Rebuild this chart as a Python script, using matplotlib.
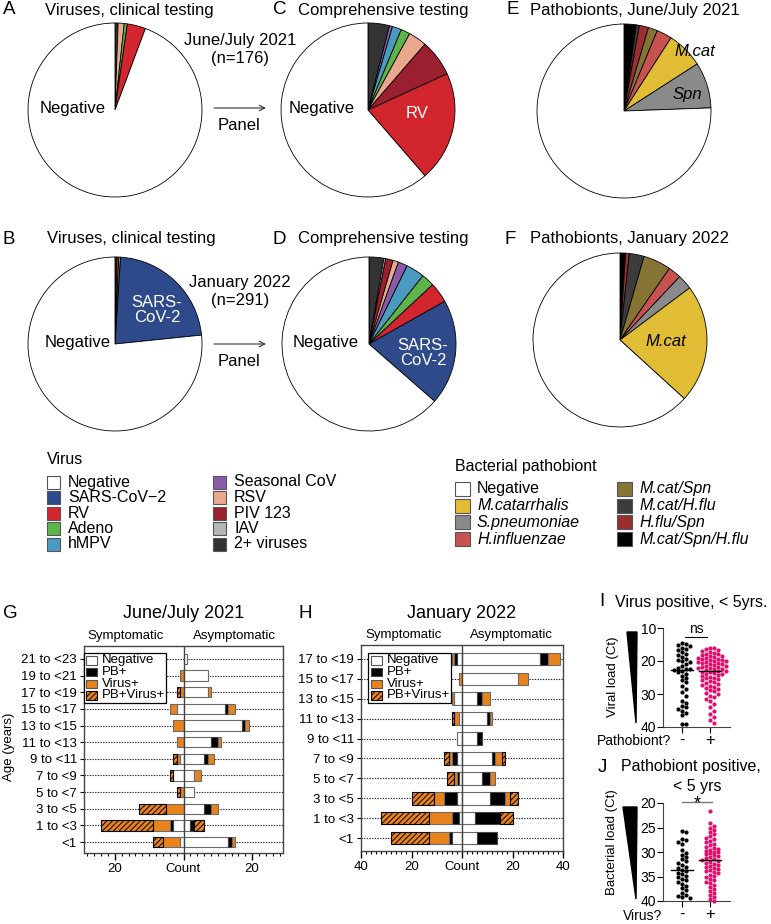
import numpy as np
import matplotlib
matplotlib.use('Agg')
import matplotlib.pyplot as plt
from matplotlib.patches import Rectangle, Polygon
from matplotlib.ticker import MultipleLocator

plt.rcParams['font.family'] = ['Liberation Sans', 'DejaVu Sans']
plt.rcParams['hatch.linewidth'] = 0.7
plt.rcParams['hatch.color'] = 'black'

W, H = 771, 924

# ---- colours ----
vir_col = {'Negative': '#ffffff', 'SARS-CoV-2': '#2e4a8b', 'RV': '#d2252d', 'Adeno': '#5db549',
           'hMPV': '#4b9bc0', 'Seasonal CoV': '#8a5ca8', 'RSV': '#eaa98c', 'PIV 123': '#9a1f2f',
           'IAV': '#b3b6b6', '2+ viruses': '#333333'}
bac_col = {'Negative': '#ffffff', 'M.catarrhalis': '#e1bd36', 'S.pneumoniae': '#8a8a8a',
           'H.influenzae': '#c65350', 'M.cat/Spn': '#857434', 'M.cat/H.flu': '#3c3c3c',
           'H.flu/Spn': '#9b2f2f', 'M.cat/Spn/H.flu': '#000000'}
orange = '#e8831c'

# ---- pie data (clockwise from 12 o'clock) ----
a_labels = ['2+ viruses', 'RSV', 'Adeno', 'RV', 'Negative']
a_counts = [1, 2, 1, 6, 166]
c_labels = ['2+ viruses', 'Seasonal CoV', 'hMPV', 'Adeno', 'RSV', 'PIV 123', 'RV', 'Negative']
c_counts = [7, 1, 3, 3, 6, 12, 36, 108]
b_labels = ['2+ viruses', 'RV', 'Adeno', 'SARS-CoV-2', 'Negative']
b_counts = [1, 1, 1, 65, 223]
d_labels = ['2+ viruses', 'IAV', 'PIV 123', 'RSV', 'Seasonal CoV', 'hMPV', 'Adeno', 'RV', 'SARS-CoV-2', 'Negative']
d_counts = [8, 1, 4, 3, 5, 10, 7, 11, 57, 185]
e_labels = ['M.cat/Spn/H.flu', 'M.cat/H.flu', 'H.flu/Spn', 'M.cat/Spn', 'H.influenzae', 'M.catarrhalis', 'S.pneumoniae', 'Negative']
e_counts = [4, 1, 3, 3, 5, 12, 15, 133]
f_labels = ['M.cat/Spn/H.flu', 'H.flu/Spn', 'M.cat/H.flu', 'M.cat/Spn', 'H.influenzae', 'S.pneumoniae', 'M.catarrhalis', 'Negative']
f_counts = [3, 2, 8, 15, 7, 8, 64, 184]

vir_legend = ['Negative', 'SARS-CoV-2', 'RV', 'Adeno', 'hMPV', 'Seasonal CoV', 'RSV', 'PIV 123', 'IAV', '2+ viruses']
vir_legend_txt = ['Negative', 'SARS-CoV\u22122', 'RV', 'Adeno', 'hMPV', 'Seasonal CoV', 'RSV', 'PIV 123', 'IAV', '2+ viruses']
bac_legend = ['Negative', 'M.catarrhalis', 'S.pneumoniae', 'H.influenzae', 'M.cat/Spn', 'M.cat/H.flu', 'H.flu/Spn', 'M.cat/Spn/H.flu']

# ---- age bar data (top row first) ----
ages_g = ['21 to <23', '19 to <21', '17 to <19', '15 to <17', '13 to <15', '11 to <13',
          '9 to <11', '7 to <9', '5 to <7', '3 to <5', '1 to <3', '<1']
g_sym_neg = [0, 0, 0, 2, 0, 0, 1, 3, 0, 0, 3, 1]
g_sym_pb = [0, 0, 0, 0, 0, 0, 0, 0, 0, 0, 1, 0]
g_sym_vir = [0, 1, 1, 2, 3, 2, 1, 0, 1, 5, 5, 5]
g_sym_pbvir = [0, 0, 1, 0, 0, 0, 1, 1, 1, 8, 15, 3]
g_asym_neg = [1, 7, 7, 12, 17, 8, 6, 3, 3, 6, 2, 13]
g_asym_pb = [0, 0, 0, 1, 1, 2, 1, 0, 0, 2, 1, 1]
g_asym_vir = [0, 0, 1, 2, 1, 1, 2, 2, 0, 2, 0, 1]
g_asym_pbvir = [0, 0, 0, 0, 0, 0, 0, 0, 0, 0, 3, 0]

ages_h = ['17 to <19', '15 to <17', '13 to <15', '11 to <13', '9 to <11', '7 to <9',
          '5 to <7', '3 to <5', '1 to <3', '<1']
h_sym_neg = [2, 0, 3, 1, 2, 2, 1, 2, 1, 4]
h_sym_pb = [1, 0, 0, 0, 0, 2, 1, 5, 3, 1]
h_sym_vir = [1, 1, 1, 2, 0, 1, 1, 4, 9, 8]
h_sym_pbvir = [0, 0, 0, 1, 0, 2, 3, 9, 19, 15]
h_asym_neg = [31, 22, 6, 10, 6, 12, 8, 11, 5, 6]
h_asym_pb = [3, 0, 2, 1, 2, 1, 3, 6, 10, 8]
h_asym_vir = [5, 4, 3, 1, 0, 3, 2, 2, 0, 0]
h_asym_pbvir = [0, 0, 0, 0, 0, 1, 0, 3, 5, 0]

# ---- Ct values ----
i_neg = [14.5, 14.8, 15.2, 15.5, 16.0, 16.3, 16.8, 17.4, 17.9, 18.3, 18.8, 19.5, 19.8, 20.1, 20.4,
         21.0, 21.5, 22.0, 22.3, 22.5, 22.6, 23.0, 23.4, 24.0, 24.6, 25.2, 25.8, 26.5, 27.5, 28.5,
         29.5, 30.5, 32.0, 32.8, 33.5, 34.0, 34.6, 35.2, 35.8, 36.4, 39.0, 39.1]
i_pos = [16.0, 16.2, 16.5, 16.8, 17.0, 17.2, 17.5, 17.8, 18.0, 18.2, 18.4, 18.6, 18.8, 19.0, 19.1,
         19.3, 19.5, 19.6, 19.8, 20.0, 20.1, 20.2, 20.4, 20.5, 20.7, 20.9, 21.0, 21.2, 21.4, 21.5,
         21.7, 21.9, 22.0, 22.2, 22.4, 22.5, 22.7, 22.9, 23.0, 23.2, 23.4, 23.6, 23.8, 24.0, 24.2,
         24.5, 24.8, 25.0, 25.3, 25.6, 25.9, 26.2, 26.5, 26.8, 27.0, 27.3, 27.6, 27.9, 28.2, 28.5,
         28.9, 29.2, 29.6, 30.0, 30.5, 31.0, 31.6, 32.2, 33.0, 34.0, 35.0, 36.0, 37.0, 38.0, 38.8]
j_neg = [25.7, 25.9, 27.3, 27.6, 28.0, 28.3, 29.5, 30.2, 30.6, 31.0, 31.5, 31.9, 32.2, 32.6, 33.0,
         33.3, 33.6, 33.9, 34.2, 34.5, 34.8, 35.1, 35.5, 35.8, 36.2, 36.6, 37.0, 37.4, 37.8, 38.3,
         38.7, 39.0, 39.2, 39.4]
j_pos = [21.6, 24.0, 24.6, 25.2, 25.6, 26.0, 26.4, 26.8, 27.1, 27.4, 27.7, 28.0, 28.3, 28.6, 28.9,
         29.1, 29.3, 29.5, 29.7, 29.9, 30.1, 30.3, 30.5, 30.7, 30.9, 31.1, 31.3, 31.5, 31.6, 31.8,
         32.0, 32.2, 32.4, 32.6, 32.8, 33.0, 33.2, 33.4, 33.6, 33.8, 34.0, 34.3, 34.6, 34.9, 35.2,
         35.5, 35.8, 36.1, 36.4, 36.8, 37.2, 37.6, 38.0, 38.4, 38.8, 39.2, 39.6, 40.0]

fig = plt.figure(figsize=(W / 100, H / 100), dpi=100)


def px_axes(l, t, r, b):
    return fig.add_axes([l / W, 1 - b / H, (r - l) / W, (b - t) / H])


def pie_at(cx, cy, r, counts, labels, cols):
    m = 1.05
    ax = px_axes(cx - r * m, cy - r * m, cx + r * m, cy + r * m)
    ax.pie(counts, colors=[cols[k] for k in labels], startangle=90, counterclock=False,
           wedgeprops=dict(edgecolor='black', linewidth=0.6))
    ax.set_xlim(-m, m)
    ax.set_ylim(-m, m)
    ax.set_aspect('equal')
    ax.axis('off')
    return ax


pie_at(115, 110, 87, a_counts, a_labels, vir_col)
pie_at(368, 110, 87, c_counts, c_labels, vir_col)
pie_at(624, 111, 87, e_counts, e_labels, bac_col)
pie_at(115, 344, 87, b_counts, b_labels, vir_col)
pie_at(369, 344, 87, d_counts, d_labels, vir_col)
pie_at(620, 340, 87, f_counts, f_labels, bac_col)


# ---- age bar charts ----
def age_bars(ax, ages, sym, asym, xmax):
    n = len(ages)
    y = np.arange(n)[::-1]
    styles = [dict(color='white', edgecolor='#6a6a6a'),
              dict(color='black', edgecolor='#444444'),
              dict(color=orange, edgecolor='#6a6a6a'),
              dict(color=orange, edgecolor='black', hatch='//////')]
    for yy in y:
        ax.axhline(yy, ls=(0, (1.2, 1.2)), color='#222222', lw=0.8, zorder=0.5)
    for side, sgn in ((sym, -1), (asym, 1)):
        cum = np.zeros(n)
        for vals, st in zip(side, styles):
            vals = np.array(vals, dtype=float)
            keep = vals > 0
            ax.barh(y[keep], sgn * vals[keep], left=sgn * cum[keep], height=0.62,
                    linewidth=0.8, zorder=2, **st)
            cum += vals
    ax.axvline(0, color='#444444', lw=1.0, zorder=3)
    ax.set_xlim(-xmax, xmax)
    ax.set_yticks(y)
    ax.set_yticklabels(ages, fontsize=9.5)
    ticks = np.arange(-40, 41, 20)
    ticks = ticks[np.abs(ticks) <= xmax]
    ax.set_xticks(ticks)
    ax.set_xticklabels(['Count' if t == 0 else str(abs(t)) for t in ticks], fontsize=9.5)
    ax.xaxis.set_minor_locator(MultipleLocator(2))
    ax.tick_params(axis='x', which='major', length=5, width=1, pad=2)
    ax.tick_params(axis='x', which='minor', length=2.5, width=0.8)
    ax.tick_params(axis='y', length=3, width=0.8, pad=2)
    for s in ax.spines.values():
        s.set_color('#444444')
        s.set_linewidth(1.0)


ax_g = px_axes(84, 646, 283, 853)
age_bars(ax_g, ages_g, [g_sym_neg, g_sym_pb, g_sym_vir, g_sym_pbvir],
         [g_asym_neg, g_asym_pb, g_asym_vir, g_asym_pbvir], 29)
ax_g.set_ylim(-0.66, 11.78)

ax_h = px_axes(361, 645, 563, 851)
age_bars(ax_h, ages_h, [h_sym_neg, h_sym_pb, h_sym_vir, h_sym_pbvir],
         [h_asym_neg, h_asym_pb, h_asym_vir, h_asym_pbvir], 40)
ax_h.set_ylim(-0.64, 9.69)


# ---- Ct dot plots ----
def swarm(vals, center, ypx, xpx, d=3.9):
    placed = []
    xs = np.zeros(len(vals))
    order = np.argsort(vals)
    for i in order:
        yv = vals[i] * ypx
        k = 0
        while True:
            off = ((k + 1) // 2) * d * (1 if k % 2 else -1) if k else 0.0
            if all((off - px) ** 2 + (yv - py) ** 2 >= d * d for px, py in placed):
                break
            k += 1
        placed.append((off, yv))
        xs[i] = center + off / xpx
    return xs


def dot_panel(ax, neg, pos, ylim, yticks, ypx):
    for k, (vals, col) in enumerate(((neg, 'black'), (pos, '#e0106f'))):
        vals = np.array(vals)
        xs = swarm(vals, k, ypx, 28.0)
        ax.scatter(xs, vals, s=9, color=col, lw=0, zorder=3, clip_on=False)
        med = np.median(vals)
        ax.plot([k - 0.38, k + 0.38], [med, med], color='black', lw=1.0, zorder=4)
    ax.set_ylim(*ylim)
    ax.set_yticks(yticks)
    ax.set_xlim(-0.68, 1.71)
    ax.set_xticks([0, 1])
    ax.set_xticklabels(['-', '+'], fontsize=12)
    ax.tick_params(axis='y', labelsize=10, length=4, pad=1)
    ax.tick_params(axis='x', length=4, pad=0)
    for s in ('top', 'right'):
        ax.spines[s].set_visible(False)
    for s in ('left', 'bottom'):
        ax.spines[s].set_color('#444444')


ax_i = px_axes(663, 628, 730, 727)
dot_panel(ax_i, i_neg, i_pos, (40, 10), [10, 20, 30, 40], 99 / 30)
ax_j = px_axes(663, 803, 730, 901)
dot_panel(ax_j, j_neg, j_pos, (40, 20), [20, 25, 30, 35, 40], 98 / 20)

# ---- overlay in pixel coordinates for text and annotations ----
ov = fig.add_axes([0, 0, 1, 1])
ov.set_xlim(0, W)
ov.set_ylim(H, 0)
ov.axis('off')
ov.patch.set_alpha(0)


def t(x, y, s, size=12, **kw):
    kw.setdefault('va', 'center')
    ov.text(x, y, s, fontsize=size, **kw)


# pie titles
for letter, lx, tx, y, title in (('A', 3, 45, 10, 'Viruses, clinical testing'),
                                 ('C', 273, 298, 10, 'Comprehensive testing'),
                                 ('E', 506, 530, 10, 'Pathobionts, June/July 2021'),
                                 ('B', 2, 47, 239, 'Viruses, clinical testing'),
                                 ('D', 272, 298, 239, 'Comprehensive testing'),
                                 ('F', 505, 530, 239, 'Pathobionts, January 2022')):
    t(lx, y, letter, 13.5)
    t(tx, y, title, 12)

# pie labels
t(73, 108, 'Negative', 12, ha='center')
t(322, 108, 'Negative', 12, ha='center')
t(417, 114, 'RV', 12, ha='center', color='white')
t(695, 52, 'M.cat', 12, ha='center', style='italic')
t(687, 94, 'Spn', 12, ha='center', style='italic')
t(78, 343, 'Negative', 12, ha='center')
t(157, 310, 'SARS-\nCoV-2', 12, ha='center', color='white', linespacing=1.05)
t(326, 343, 'Negative', 12, ha='center')
t(423, 353, 'SARS-\nCoV-2', 12, ha='center', color='white', linespacing=1.05)
t(666, 341, 'M.cat', 12, ha='center', style='italic')

# between pies
t(240, 40, 'June/July 2021', 12, ha='center')
t(240, 58, '(n=176)', 12, ha='center')
t(240, 282, 'January 2022', 12, ha='center')
t(240, 300, '(n=291)', 12, ha='center')
for y in (108, 344):
    ov.annotate('', xy=(266, y), xytext=(214, y),
                arrowprops=dict(arrowstyle='->', color='#333333', lw=0.8, shrinkA=0, shrinkB=0))
    t(239, y + 18, 'Panel', 12, ha='center')

# legends
t(47, 459, 'Virus', 11.5)
for k, (key, txt) in enumerate(zip(vir_legend, vir_legend_txt)):
    col, row = divmod(k, 5)
    bx = 47 + col * 166
    by = 482 + row * 15.5
    ov.add_patch(Rectangle((bx, by - 6.5), 13, 13, facecolor=vir_col[key], edgecolor='#555555', lw=0.8))
    t(bx + 21, by, txt, 11.5)

t(455, 466, 'Bacterial pathobiont', 11.5)
for k, key in enumerate(bac_legend):
    col, row = divmod(k, 4)
    bx = 455 + col * 162
    by = 489 + row * 16.7
    ov.add_patch(Rectangle((bx, by - 7), 15, 14, facecolor=bac_col[key], edgecolor='#555555', lw=0.8))
    t(bx + 22, by, key, 11.5, style='normal' if key == 'Negative' else 'italic')

# bar chart headers
t(3, 613, 'G', 13.5)
t(184, 613, 'June/July 2021', 13, ha='center')
t(126, 636, 'Symptomatic', 9.5, ha='center')
t(234, 636, 'Asymptomatic', 9.5, ha='center')
t(299, 613, 'H', 13.5)
t(462, 613, 'January 2022', 13, ha='center')
t(404, 635, 'Symptomatic', 9.5, ha='center')
t(511, 635, 'Asymptomatic', 9.5, ha='center')
t(9, 747, 'Age (years)', 9.5, ha='center', rotation=90)

# bar chart legends
bar_leg = ['Negative', 'PB+', 'Virus+', 'PB+Virus+']
bar_leg_style = [dict(facecolor='white', edgecolor='#555555'),
                 dict(facecolor='black', edgecolor='#444444'),
                 dict(facecolor=orange, edgecolor='#555555'),
                 dict(facecolor=orange, edgecolor='black', hatch='//////')]
for lx, rx, hx in ((84, 166, 86), (368, 451, 371)):
    ov.add_patch(Rectangle((lx, 653), rx - lx, 50, facecolor='white', edgecolor='black', lw=0.9, zorder=5))
    for k, (lab, st) in enumerate(zip(bar_leg, bar_leg_style)):
        yy = 660 + k * 11.8
        ov.add_patch(Rectangle((hx, yy - 4), 11, 8.5, lw=0.8, zorder=6, **st))
        ov.text(hx + 16, yy, lab, fontsize=9.5, va='center', zorder=6)

# dot plot annotations
t(602, 602, 'I', 13.5, ha='center')
t(615, 602, 'Virus positive, < 5yrs.', 11.5)
t(613, 677, 'Viral load (Ct)', 9.5, ha='center', rotation=90)
ov.add_patch(Polygon([(627, 632), (637, 632), (636, 723)], closed=True, color='black'))
ov.plot([685, 707], [637, 637], color='black', lw=0.8)
t(696, 629, 'ns', 10, ha='center')
t(671, 741, 'Pathobiont?', 10, ha='right')

t(602, 767, 'J', 13.5, ha='center')
t(621, 767, 'Pathobiont positive,', 11.5)
t(697, 786, '< 5 yrs', 11.5, ha='center')
t(612, 842, 'Bacterial load (Ct)', 9.5, ha='center', rotation=90)
ov.add_patch(Polygon([(623, 807), (637, 807), (636, 899)], closed=True, color='black'))
ov.plot([682, 712], [802, 802], color='#777777', lw=1.0)
t(697, 808, '*', 13, ha='center', va='baseline')
t(662, 916.5, 'Virus?', 10, ha='right')

fig.savefig('out.png', dpi=100)
